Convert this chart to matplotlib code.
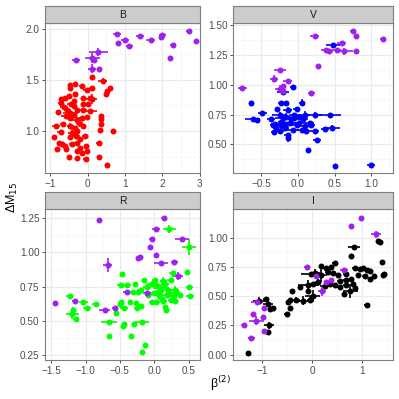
import numpy as np
import matplotlib.pyplot as plt

# each row: x, y, xerr, yerr
b_main = [(0.13,1.53,0.06,0), (0.41,1.49,0.12,0.03), (-0.34,1.46,0.05,0), (-0.46,1.45,0.04,0), (-0.46,1.42,0.04,0),
          (-0.14,1.44,0.08,0), (-0.01,1.40,0.1,0), (0.11,1.42,0.06,0), (0.60,1.42,0.06,0.02), (0.53,1.39,0.07,0.02),
          (0.49,1.36,0.05,0.03), (-0.60,1.32,0.1,0), (-0.71,1.31,0.05,0), (0.06,1.32,0.05,0), (0.11,1.31,0.15,0.05),
          (-0.13,1.32,0.05,0), (-0.36,1.29,0.06,0), (-0.71,1.27,0.08,0), (-0.63,1.23,0.1,0.02), (-0.44,1.26,0.1,0),
          (-0.36,1.24,0.08,0), (-0.54,1.21,0.1,0), (-0.78,1.19,0.04,0), (-0.46,1.18,0.2,0.03), (-0.12,1.21,0.1,0),
          (0.06,1.20,0.2,0), (0.37,1.15,0.03,0), (0.37,1.12,0.03,0), (-0.58,1.15,0.12,0.02), (-0.47,1.13,0.1,0.03),
          (-0.37,1.16,0.1,0), (-0.29,1.11,0.12,0.03), (-0.16,1.13,0.1,0), (-0.01,1.14,0.08,0), (-0.22,1.08,0.1,0.02),
          (-0.67,1.07,0.06,0), (-0.85,1.05,0.1,0), (-0.46,1.05,0.1,0.03), (-0.33,1.03,0.08,0), (-0.13,1.05,0.1,0),
          (0.35,1.07,0.03,0), (0.33,1.01,0.06,0), (0.67,1.00,0.03,0), (-0.72,0.99,0.1,0), (-0.42,0.98,0.1,0.04),
          (-0.28,1.00,0.06,0), (-0.90,0.94,0.03,0), (-0.47,0.94,0.06,0), (-0.31,0.95,0.1,0), (-0.06,0.95,0.08,0),
          (-0.20,0.92,0.05,0), (-0.76,0.88,0.06,0), (-0.69,0.87,0.05,0), (-0.60,0.85,0.05,0), (-0.43,0.87,0.06,0),
          (-0.29,0.88,0.08,0.02), (0.31,0.88,0.08,0), (-0.21,0.83,0.05,0), (-0.03,0.85,0.06,0), (-0.81,0.82,0.04,0),
          (-0.58,0.82,0.06,0), (-0.28,0.80,0.06,0), (-0.01,0.80,0.04,0), (-0.15,0.79,0.06,0), (-0.49,0.75,0.04,0),
          (0.31,0.75,0.04,0), (-0.29,0.74,0.06,0), (-0.03,0.73,0.08,0), (0.53,0.67,0.02,0), (-0.28,1.21,0.06,0),
          (-0.34,1.36,0.05,0), (-0.49,1.34,0.05,0), (-0.12,1.26,0.06,0), (0.02,1.26,0.05,0)]
b_purple = [(0.79,1.95,0.1,0.01), (0.82,1.86,0.02,0), (1.0,1.89,0.1,0.02), (1.12,1.83,0.1,0), (1.40,1.93,0.1,0.01),
            (1.69,1.89,0.12,0.02), (2.0,1.94,0.1,0.02), (1.96,1.92,0.05,0), (2.29,1.84,0.08,0), (2.21,1.71,0.02,0),
            (2.72,1.98,0.08,0), (2.89,1.88,0.03,0), (0.29,1.77,0.25,0.04), (0.13,1.71,0.2,0.05), (0.18,1.69,0.06,0),
            (-0.31,1.69,0.1,0.01), (0.12,1.61,0.1,0.04), (0.31,1.61,0.03,0)]

v_main = [(0.48,1.33,0.1,0.02), (-0.07,0.98,0.04,0.02), (-0.21,0.94,0.08,0), (-0.65,0.85,0.02,0), (-0.23,0.85,0.04,0),
          (-0.17,0.85,0.03,0), (0.05,0.85,0.04,0.03), (-0.29,0.80,0.03,0), (-0.14,0.79,0.06,0.02), (-0.02,0.80,0.05,0),
          (-0.49,0.76,0.06,0), (-0.62,0.71,0.1,0), (-0.56,0.70,0.04,0), (-0.37,0.71,0.06,0), (-0.25,0.75,0.1,0.02),
          (-0.16,0.73,0.06,0.03), (-0.05,0.75,0.08,0), (0.02,0.73,0.06,0), (0.09,0.75,0.08,0.03), (0.23,0.75,0.1,0.02),
          (0.44,0.75,0.15,0.01), (-0.31,0.67,0.06,0), (-0.23,0.69,0.05,0), (-0.11,0.68,0.1,0.03), (0.02,0.68,0.08,0),
          (0.16,0.68,0.06,0), (-0.18,0.64,0.06,0), (-0.07,0.62,0.08,0.02), (0.05,0.62,0.06,0), (0.11,0.61,0.06,0),
          (0.18,0.66,0.05,0), (0.37,0.63,0.06,0), (0.46,0.64,0.12,0.02), (-0.33,0.60,0.04,0), (-0.25,0.61,0.06,0),
          (-0.14,0.58,0.05,0), (-0.30,0.64,0.04,0), (0.23,0.61,0.06,0), (-0.14,0.55,0.02,0.03), (0.26,0.54,0.06,0),
          (0.14,0.45,0.02,0), (0.50,0.32,0.02,0), (1.00,0.33,0.06,0), (-0.21,0.72,0.1,0), (-0.09,0.71,0.06,0),
          (-0.02,0.66,0.06,0), (0.09,0.65,0.06,0), (-0.16,0.67,0.04,0), (-0.23,0.66,0.04,0), (-0.05,0.72,0.05,0),
          (0.07,0.71,0.06,0), (-0.34,0.66,0.05,0)]
v_purple = [(0.23,1.41,0.06,0), (0.75,1.45,0.04,0), (0.80,1.41,0.04,0), (1.16,1.38,0.04,0), (0.60,1.35,0.06,0),
            (0.38,1.29,0.06,0), (0.43,1.28,0.05,0), (0.53,1.29,0.06,0), (0.63,1.28,0.12,0.03), (0.80,1.28,0.02,0),
            (0.28,1.16,0.02,0), (-0.25,1.12,0.08,0.02), (-0.33,1.05,0.06,0.03), (-0.14,1.03,0.06,0.01),
            (-0.21,0.99,0.05,0), (-0.25,0.96,0.06,0.01), (-0.76,0.97,0.06,0), (0.18,0.93,0.05,0), (-0.21,0.95,0.04,0)]

r_main = [(0.22,1.17,0.1,0.03), (0.51,1.04,0.1,0.06), (0.27,0.85,0.05,0), (0.47,0.86,0.02,0), (-0.47,0.84,0.02,0),
          (-0.49,0.76,0.05,0), (-0.39,0.76,0.05,0), (-0.28,0.77,0.03,0), (-0.15,0.795,0.03,0), (0.01,0.80,0.04,0),
          (0.13,0.79,0.05,0.03), (0.24,0.80,0.05,0), (-0.20,0.725,0.05,0), (-0.11,0.75,0.06,0), (-0.04,0.77,0.08,0.02),
          (0.03,0.76,0.1,0.03), (0.08,0.74,0.1,0), (0.16,0.77,0.05,0), (0.20,0.725,0.1,0.02), (0.30,0.725,0.06,0.03),
          (0.51,0.75,0.05,0), (0.52,0.68,0.06,0), (0.37,0.69,0.04,0), (0.28,0.68,0.05,0.03), (0.18,0.69,0.05,0),
          (0.07,0.69,0.06,0), (-0.01,0.70,0.06,0), (-0.23,0.71,0.04,0), (-0.31,0.71,0.04,0), (-0.35,0.64,0.03,0),
          (-0.27,0.63,0.03,0), (-0.04,0.64,0.04,0), (0.03,0.64,0.05,0), (0.13,0.645,0.05,0.02), (0.24,0.65,0.04,0),
          (0.30,0.645,0.04,0), (0.16,0.60,0.02,0), (0.17,0.58,0.02,0), (-0.20,0.61,0.03,0), (-0.25,0.59,0.04,0),
          (-0.49,0.64,0.02,0), (-0.50,0.62,0.02,0), (-0.55,0.56,0.02,0), (-0.44,0.59,0.06,0.02), (-1.23,0.68,0.05,0),
          (-1.03,0.64,0.06,0), (-0.85,0.62,0.05,0), (-0.98,0.59,0.06,0), (-1.18,0.58,0.02,0.02), (-1.19,0.55,0.1,0.04),
          (-1.14,0.51,0.04,0), (-0.66,0.49,0.12,0), (-0.44,0.48,0.02,0), (-0.46,0.465,0.02,0), (-0.30,0.48,0.02,0),
          (-0.18,0.49,0.1,0), (-0.66,0.39,0.02,0), (-0.34,0.39,0.02,0), (-0.13,0.32,0.02,0), (-0.18,0.27,0.03,0),
          (0.08,0.72,0.06,0), (-0.09,0.69,0.05,0), (0.22,0.70,0.05,0), (0.11,0.66,0.05,0), (0.32,0.71,0.05,0)]
r_purple = [(-0.80,1.235,0.04,0), (0.14,1.255,0.04,0), (0.02,1.17,0.06,0), (-0.04,1.10,0.04,0), (0.40,1.10,0.1,0),
            (-0.06,1.04,0.02,0), (-0.21,0.97,0.04,0), (-0.23,0.96,0.03,0), (0.02,0.98,0.03,0), (0.10,0.92,0.1,0.01),
            (0.29,0.93,0.05,0), (-0.68,0.91,0.07,0.05), (0.34,0.83,0.08,0.03), (-0.40,0.71,0.05,0),
            (-1.45,0.63,0.03,0), (-1.16,0.645,0.04,0), (-0.72,0.58,0.08,0), (-0.57,0.59,0.04,0), (-0.11,0.70,0.06,0)]

i_main = [(0.83,0.92,0.12,0.02), (1.32,0.97,0.04,0), (1.35,0.965,0.02,0), (0.78,0.84,0.02,0), (1.40,0.79,0.02,0),
          (1.43,0.69,0.04,0), (1.42,0.68,0.02,0), (0.45,0.78,0.05,0), (0.38,0.75,0.05,0), (0.18,0.76,0.04,0),
          (0.28,0.74,0.06,0), (0.05,0.70,0.1,0.03), (-0.02,0.685,0.2,0.02), (0.18,0.68,0.12,0.06), (0.31,0.71,0.06,0),
          (0.41,0.695,0.06,0), (0.52,0.68,0.05,0), (0.68,0.687,0.06,0), (0.85,0.74,0.05,0), (0.95,0.73,0.05,0),
          (1.02,0.74,0.05,0), (1.09,0.72,0.05,0), (1.16,0.715,0.04,0), (1.23,0.67,0.04,0), (1.15,0.65,0.04,0),
          (1.05,0.67,0.05,0), (0.92,0.68,0.05,0), (0.78,0.65,0.05,0), (0.68,0.64,0.06,0), (0.55,0.63,0.06,0),
          (0.45,0.595,0.05,0), (0.35,0.60,0.06,0), (0.25,0.59,0.1,0.02), (0.11,0.62,0.06,0.03), (0.01,0.60,0.05,0),
          (-0.09,0.595,0.2,0.04), (0.55,0.58,0.05,0), (0.68,0.595,0.06,0), (0.82,0.60,0.05,0), (0.85,0.57,0.04,0),
          (0.63,0.52,0.04,0), (0.76,0.54,0.15,0.06), (1.09,0.42,0.06,0), (0.01,0.50,0.15,0.05), (-0.09,0.54,0.04,0),
          (-0.25,0.58,0.04,0), (-0.05,0.47,0.05,0.02), (-0.19,0.46,0.1,0.04), (-0.32,0.47,0.08,0.02),
          (-0.45,0.47,0.04,0), (-0.49,0.45,0.03,0), (-0.45,0.40,0.03,0), (-0.40,0.545,0.03,0), (-0.51,0.35,0.05,0),
          (-0.84,0.39,0.04,0), (-0.89,0.43,0.1,0.02), (-0.93,0.475,0.06,0), (-1.06,0.46,0.12,0.03),
          (-0.87,0.25,0.1,0.03), (-0.89,0.195,0.02,0), (-1.29,0.017,0.02,0), (-0.79,0.40,0.04,0)]
i_purple = [(0.98,1.17,0.02,0), (0.78,1.10,0.02,0), (1.28,1.03,0.1,0.03), (-0.11,0.745,0.06,0), (0.07,0.67,0.04,0),
            (0.63,0.72,0.08,0.02), (0.27,0.62,0.04,0), (0.20,0.54,0.08,0.04), (0.38,0.64,0.05,0),
            (-1.11,0.45,0.12,0.01), (-0.96,0.40,0.04,0), (-1.19,0.35,0.02,0), (-1.12,0.29,0.15,0.04),
            (-0.99,0.32,0.04,0), (-1.36,0.25,0.06,0), (-1.22,0.14,0.07,0.01), (-0.96,0.20,0.04,0)]

bands = ["B", "V", "R", "I"]
band_colors = ["#FF0000", "#0000FF", "#00FF00", "#000000"]
purple = "#A020F0"

xlims = [(-1.14, 3.01), (-0.89, 1.30), (-1.59, 0.665), (-1.59, 1.62)]
ylims = [(0.59, 2.055), (0.26, 1.517), (0.213, 1.318), (-0.046, 1.245)]
xticks = [[-1, 0, 1, 2, 3], [-0.5, 0.0, 0.5, 1.0], [-1.5, -1.0, -0.5, 0.0, 0.5], [-1, 0, 1]]
xlabels = [["−1", "0", "1", "2", "3"], ["−0.5", "0.0", "0.5", "1.0"],
           ["−1.5", "−1.0", "−0.5", "0.0", "0.5"], ["−1", "0", "1"]]
yticks = [[1.0, 1.5, 2.0], [0.5, 0.75, 1.0, 1.25, 1.5], [0.25, 0.5, 0.75, 1.0, 1.25], [0.0, 0.25, 0.5, 0.75, 1.0]]
ylabels = [["1.0", "1.5", "2.0"], ["0.50", "0.75", "1.00", "1.25", "1.50"],
           ["0.25", "0.50", "0.75", "1.00", "1.25"], ["0.00", "0.25", "0.50", "0.75", "1.00"]]

plt.rcParams['font.family'] = ['Liberation Sans', 'DejaVu Sans']

W = H = 399
fig = plt.figure(figsize=(W / 100, H / 100), dpi=100)

# panel boxes in pixels: left, top, right, bottom
boxes = [(45, 23, 200, 173), (233, 23, 393, 173), (45, 209, 200, 360), (233, 209, 393, 360)]
strip_h = 17


def px_rect(l, t, r, b):
    return [l / W, 1 - b / H, (r - l) / W, (b - t) / H]


def draw(ax, rows, color):
    d = np.array(rows)
    ax.errorbar(d[:, 0], d[:, 1], xerr=d[:, 2], yerr=d[:, 3], fmt='o', color=color,
                ms=4.3, mec='none', elinewidth=1.2, capsize=0, zorder=3)


series = [(b_main, b_purple), (v_main, v_purple), (r_main, r_purple), (i_main, i_purple)]

for k in range(4):
    l, t, r, b = boxes[k]
    ax = fig.add_axes(px_rect(l, t, r, b))
    main, pur = series[k]
    draw(ax, main, band_colors[k])
    draw(ax, pur, purple)
    ax.set_xlim(*xlims[k])
    ax.set_ylim(*ylims[k])
    ax.set_xticks(xticks[k])
    ax.set_xticklabels(xlabels[k])
    ax.set_yticks(yticks[k])
    ax.set_yticklabels(ylabels[k])
    # minor grid halfway between majors
    xt = np.array(xticks[k])
    yt = np.array(yticks[k])
    dx = xt[1] - xt[0]
    dy = yt[1] - yt[0]
    xm = np.arange(xt[0] - dx / 2, xt[-1] + dx, dx)
    ym = np.arange(yt[0] - dy / 2, yt[-1] + dy, dy)
    for v in xm:
        ax.axvline(v, color="#F5F5F5", lw=0.5, zorder=0)
    for v in ym:
        ax.axhline(v, color="#F5F5F5", lw=0.5, zorder=0)
    ax.grid(True, color="#EBEBEB", lw=0.8, zorder=0)
    ax.set_axisbelow(True)
    for s in ax.spines.values():
        s.set_color("#7F7F7F")
        s.set_linewidth(0.8)
    ax.tick_params(colors="#333333", labelcolor="#4D4D4D", labelsize=7.2, length=2.5, width=0.6, pad=1.5)

    sax = fig.add_axes(px_rect(l, t - strip_h, r, t))
    sax.set_facecolor("#CCCCCC")
    sax.set_xticks([])
    sax.set_yticks([])
    for s in sax.spines.values():
        s.set_color("#7F7F7F")
        s.set_linewidth(0.8)
    sax.text(0.5, 0.5, bands[k], ha='center', va='center', fontsize=7.5, color="#1A1A1A",
             transform=sax.transAxes)

fig.text(12 / W, 1 - 197 / H, "ΔM$_{15}$", rotation=90, ha='center', va='center', fontsize=9)
fig.text(220 / W, 1 - 384 / H, "β$^{(2)}$", ha='center', va='center', fontsize=9)

fig.savefig("out.png", dpi=100)
